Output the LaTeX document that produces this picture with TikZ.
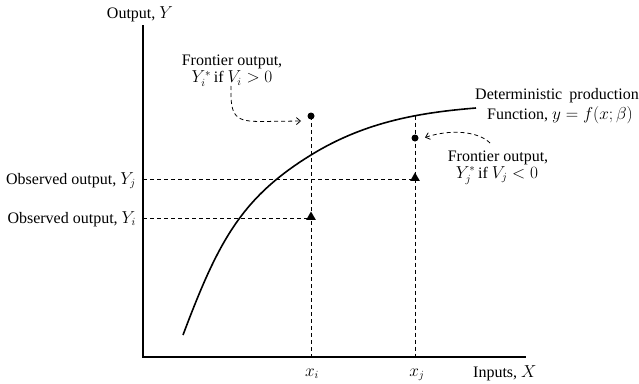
\documentclass[tikz,border=0pt]{standalone}
\usepackage{fontspec}
\setmainfont{Liberation Serif}
\usetikzlibrary{arrows.meta,shapes.geometric}
\begin{document}
\begin{tikzpicture}[x=1pt,y=-1pt,
  lbl/.style={font=\fontsize{16}{18}\selectfont, inner sep=0pt},
  axisline/.style={line width=1.6pt},
  guide/.style={dash pattern=on 4pt off 3pt, line width=0.8pt},
  ptr/.style={guide, -{Straight Barb[length=4pt,width=7pt]}},
  dotmark/.style={circle, fill=black, inner sep=0pt, minimum size=7pt},
  trimark/.style={regular polygon, regular polygon sides=3, fill=black, inner sep=0pt, minimum size=11pt}]
\useasboundingbox (0,0) rectangle (639,383);
% axes
\coordinate (O) at (143,357);
\coordinate (ytop) at (143,25);
\coordinate (xend) at (526,357);
\draw[axisline] (ytop) -- (O) -- (xend);
% production function
\coordinate (c0) at (183,335);
\coordinate (c1) at (311,155);
\coordinate (c2) at (476,108);
\draw[line width=1.6pt] (c0) .. controls (218,242) and (241,198) .. (c1)
  .. controls (366,121) and (422,112.4) .. (c2);
% guide coordinates
\coordinate (xi) at (311,357);
\coordinate (xj) at (415,357);
\coordinate (cj) at (415,115.5);
\coordinate (yj) at (143,179);
\coordinate (yi) at (143,218);
\coordinate (tj) at (415,179);
\coordinate (ti) at (311,218);
\coordinate (di) at (311,116);
\coordinate (dj) at (415,138);
% dashed guides
\draw[guide] (di) -- (xi);
\draw[guide] (cj) -- (xj);
\draw[guide] (yj) -- (tj);
\draw[guide] (yi) -- (ti);
% markers
\node[dotmark] (Di) at (di) {};
\node[dotmark] (Dj) at (dj) {};
\node[trimark] (Ti) at ([yshift=1pt]ti) {};
\node[trimark] (Tj) at ([yshift=1pt]tj) {};
% labels
\node[lbl, anchor=base] (ylab) at (140,18) {Output, $Y$};
\node[lbl, anchor=base east] (obsj) at (136,184) {Observed output, $Y_j$};
\node[lbl, anchor=base east] (obsi) at (136,223) {Observed output, $Y_i$};
\node[lbl, anchor=base] (xil) at (312,376) {$x_i$};
\node[lbl, anchor=base] (xjl) at (417,376) {$x_j$};
\node[lbl, anchor=base west] (xlab) at (473,377) {Inputs, $X$};
\node[lbl, anchor=base] (fi1) at (232,65) {Frontier output,};
\node[lbl, anchor=base] (fi2) at (232,82.5) {$Y_i^{*}$\,if $V_i>0$};
\node[lbl, anchor=base] (fj1) at (498,161) {Frontier output,};
\node[lbl, anchor=base] (fj2) at (497,178) {$Y_j^{*}$\,if $V_j<0$};
\node[lbl, anchor=base] (det1) at (557,99.5) {Deterministic\hspace{0.45em}production};
\node[lbl, anchor=base] (det2) at (560,119.5) {Function, $y=f(x;\beta)$};
% pointer arrows
\coordinate (ai) at (231,86);
\coordinate (ei) at (301,121);
\coordinate (aj) at (490,143);
\coordinate (ej) at (425,137.5);
\draw[ptr] (ai) .. controls (230,118) and (236,121.5) .. (262,121.5) -- (ei);
\draw[ptr] (aj) .. controls (478,131) and (450,129) .. (ej);
\end{tikzpicture}
\end{document}
